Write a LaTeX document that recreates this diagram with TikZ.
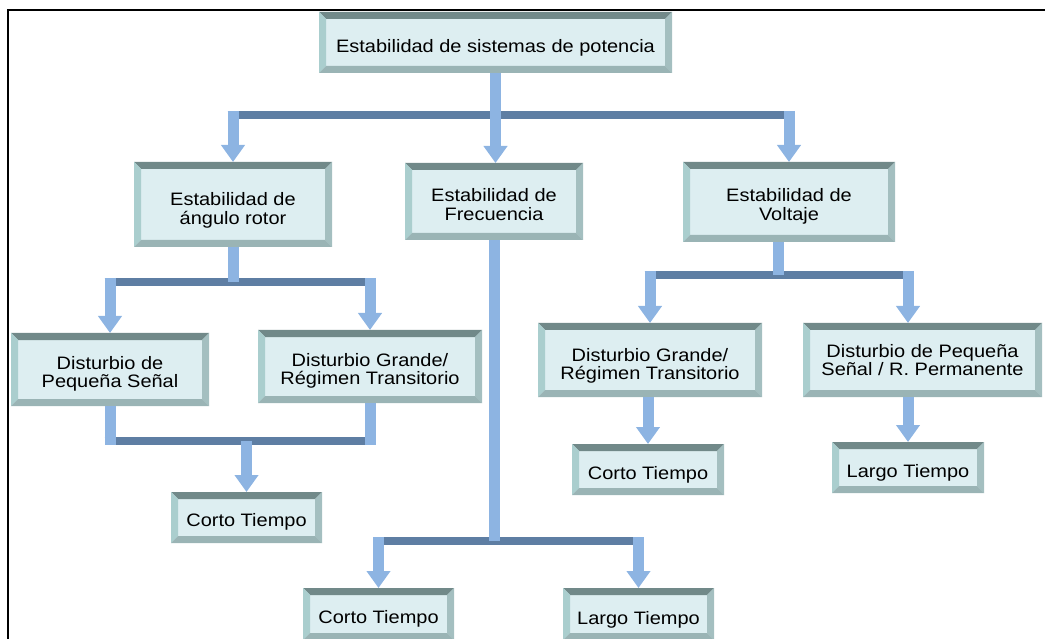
\documentclass[tikz,border=0pt]{standalone}
\usepackage{fontspec}
\setmainfont{Liberation Sans}[FakeStretch=1.11]
\usepackage{tikz}
\usetikzlibrary{arrows.meta}
\usetikzlibrary{positioning}
\definecolor{cara}{HTML}{DDEEF1}
\definecolor{biselsup}{HTML}{718989}
\definecolor{biselizq}{HTML}{AACECE}
\definecolor{biselder}{HTML}{A4BFC0}
\definecolor{biselinf}{HTML}{9AB4B5}
\definecolor{azulclaro}{HTML}{8DB4E2}
\definecolor{azulbarra}{HTML}{5E7EA3}
\newcommand{\fuentecaja}{\fontsize{18}{18.5}\selectfont}

\tikzset{
  bevelbox/.style={rectangle, fill=cara, inner sep=2pt, outer sep=0pt,
    path picture={
      \fill[biselsup] (path picture bounding box.north west) -- (path picture bounding box.north east)
        -- ([shift={(-7pt,-7pt)}]path picture bounding box.north east) -- ([shift={(7pt,-7pt)}]path picture bounding box.north west) -- cycle;
      \fill[biselizq] (path picture bounding box.north west) -- ([shift={(7pt,-7pt)}]path picture bounding box.north west)
        -- ([shift={(7pt,7pt)}]path picture bounding box.south west) -- (path picture bounding box.south west) -- cycle;
      \fill[biselder] (path picture bounding box.north east) -- ([shift={(-7pt,-7pt)}]path picture bounding box.north east)
        -- ([shift={(-7pt,7pt)}]path picture bounding box.south east) -- (path picture bounding box.south east) -- cycle;
      \fill[biselinf] (path picture bounding box.south west) -- ([shift={(7pt,7pt)}]path picture bounding box.south west)
        -- ([shift={(-7pt,7pt)}]path picture bounding box.south east) -- (path picture bounding box.south east) -- cycle;
    }},
  rotulo/.style={font=\fuentecaja, align=center, inner sep=0pt},
  barra/.style={line width=8pt, color=azulbarra, shorten <=-5.5pt, shorten >=-5.5pt},
  tubo/.style={line width=11pt, color=azulclaro},
  flecha/.style={line width=11pt, color=azulclaro, -{Triangle[length=17pt, width=23pt]}}
}

\begin{document}
\begin{tikzpicture}[x=1pt,y=-1pt,line cap=butt]
\useasboundingbox (0,0) rectangle (1045,639);
% marco
\draw[line width=2.5pt] (8,639) -- (8,10) -- (1045,10);
% cajas
\node[bevelbox, minimum width=353pt, minimum height=61pt,
  label={[rotulo, yshift=-5pt]center:Estabilidad de sistemas de potencia}] (sist) at (495.5,42.5) {};
\node[bevelbox, minimum width=198pt, minimum height=85pt,
  label={[rotulo, yshift=-6pt]center:Estabilidad de\\ángulo rotor}] (rotor) at (233,204.5) {};
\node[bevelbox, minimum width=178pt, minimum height=77pt,
  label={[rotulo, yshift=-3pt]center:Estabilidad de\\Frecuencia}] (frec) at (494,201.5) {};
\node[bevelbox, minimum width=212pt, minimum height=80pt,
  label={[rotulo, yshift=-4.5pt]center:Estabilidad de\\Voltaje}] (volt) at (789,202) {};
\node[bevelbox, minimum width=198pt, minimum height=73pt,
  label={[rotulo, yshift=-4.5pt]center:Disturbio de\\Pequeña Señal}] (peq) at (110,369.5) {};
\node[bevelbox, minimum width=224pt, minimum height=73pt,
  label={[rotulo, yshift=-4.5pt]center:Disturbio Grande/\\Régimen Transitorio}] (gran) at (370,366.5) {};
\node[bevelbox, minimum width=151pt, minimum height=51pt,
  label={[rotulo, yshift=-4pt]center:Corto Tiempo}] (rcorto) at (246.5,517.5) {};
\node[bevelbox, minimum width=151pt, minimum height=52pt,
  label={[rotulo, yshift=-5pt]center:Corto Tiempo}] (fcorto) at (378.5,614) {};
\node[bevelbox, minimum width=151pt, minimum height=52pt,
  label={[rotulo, yshift=-6pt]center:Largo Tiempo}] (flargo) at (638.5,614) {};
\node[bevelbox, minimum width=224pt, minimum height=74pt,
  label={[rotulo, yshift=-6pt]center:Disturbio Grande/\\Régimen Transitorio}] (vgran) at (650,360) {};
\node[bevelbox, minimum width=239pt, minimum height=74pt,
  label={[rotulo]center:Disturbio de Pequeña\\Señal / R. Permanente}] (vperm) at (922.5,360) {};
\node[bevelbox, minimum width=152pt, minimum height=51pt,
  label={[rotulo, yshift=-5.5pt]center:Corto Tiempo}] (vcorto) at (648,469.5) {};
\node[bevelbox, minimum width=152pt, minimum height=51pt,
  label={[rotulo, yshift=-5pt]center:Largo Tiempo}] (vlargo) at (908,467.5) {};
% niveles de las barras
\coordinate (b1) at (0,115);
\coordinate (b2) at (0,282);
\coordinate (b3) at (0,441);
\coordinate (b4) at (0,541);
\coordinate (b5) at (0,275);
\coordinate (vbaja) at ([xshift=-11pt]volt.south);
% barras
\draw[barra] (rotor.north |- b1) -- (volt.north |- b1);
\draw[barra] (peq.north |- b2) -- (gran.north |- b2);
\draw[barra] (peq.south |- b3) -- (gran.south |- b3);
\draw[barra] (fcorto.north |- b4) -- (flargo.north |- b4);
\draw[barra] (vgran.north |- b5) -- (vlargo.north |- b5);
% flechas
\draw[flecha] (sist.south) -- (sist.south |- frec.north);
\draw[flecha, shorten <=-4pt] (rotor.north |- b1) -- (rotor.north);
\draw[flecha, shorten <=-4pt] (volt.north |- b1) -- (volt.north);
\draw[tubo] (rotor.south) -- (rotor.south |- b2);
\draw[flecha, shorten <=-4pt] (peq.north |- b2) -- (peq.north);
\draw[flecha, shorten <=-4pt] (gran.north |- b2) -- (gran.north);
\draw[tubo, shorten >=-4pt] (peq.south) -- (peq.south |- b3);
\draw[tubo, shorten >=-4pt] (gran.south) -- (gran.south |- b3);
\draw[flecha] (rcorto.north |- b3) -- (rcorto.north);
\draw[tubo] (frec.south) -- (frec.south |- b4);
\draw[flecha, shorten <=-4pt] (fcorto.north |- b4) -- (fcorto.north);
\draw[flecha, shorten <=-4pt] (flargo.north |- b4) -- (flargo.north);
\draw[tubo] (vbaja) -- (vbaja |- b5);
\draw[flecha, shorten <=-4pt] (vgran.north |- b5) -- (vgran.north);
\draw[flecha, shorten <=-4pt] (vlargo.north |- b5) -- (vperm.north -| vlargo.north);
\draw[flecha] (vgran.south -| vcorto.north) -- (vcorto.north);
\draw[flecha] (vperm.south -| vlargo.north) -- (vlargo.north);
\end{tikzpicture}
\end{document}
